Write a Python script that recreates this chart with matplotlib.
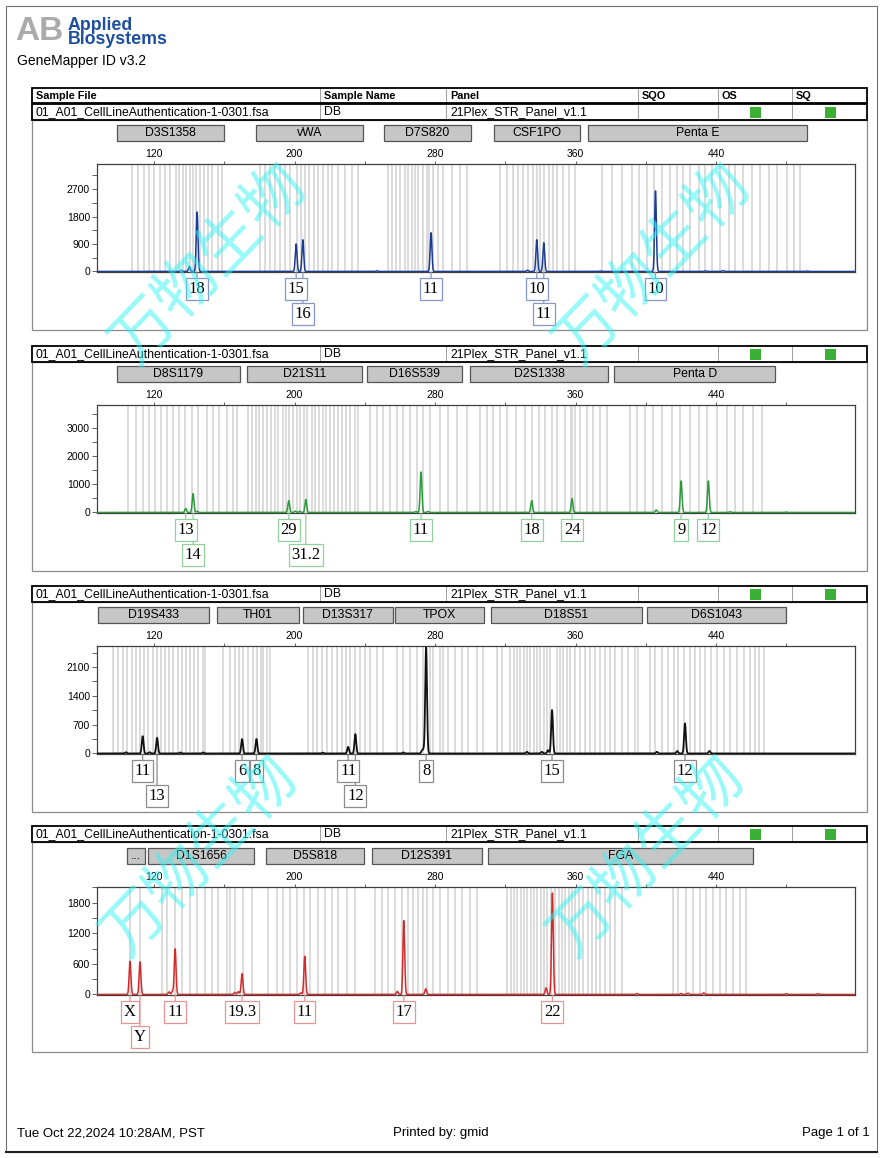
import numpy as np
import matplotlib
matplotlib.use("Agg")
import matplotlib.pyplot as plt
from matplotlib.patches import Rectangle
from matplotlib.transforms import blended_transform_factory

W, H = 882, 1158
SANS = "Liberation Sans"
SERIF = "Liberation Serif"

# ---------------- data ----------------
sample_file = "01_A01_CellLineAuthentication-1-0301.fsa"
sample_name = "DB"
panel_name = "21Plex_STR_Panel_v1.1"
header_cols = ["Sample File", "Sample Name", "Panel", "SQO", "OS", "SQ"]

x_major = [120, 200, 280, 360, 440]
x_minor = [160, 240, 320, 400, 480]

# panel 1 - blue dye
p1_markers = ["D3S1358", "vWA", "D7S820", "CSF1PO", "Penta E"]
p1_marker_start = [98.9, 178.1, 251.0, 313.6, 367.1]
p1_marker_end = [159.9, 239.0, 300.5, 362.6, 491.8]
p1_peak_bp = [144.5, 200.9, 204.7, 277.7, 337.9, 341.9, 405.5]
p1_peak_height = [1950, 900, 1040, 1270, 1040, 940, 2640]
p1_allele = ["18", "15", "16", "11", "10", "11", "10"]
p1_row = [1, 1, 2, 1, 1, 2, 1]
p1_small_bp = [135.5, 140.1, 247.0, 332.6, 373.9, 434.0, 444.0, 492.0]
p1_small_height = [30, 160, 20, 40, 15, 20, 25, 15]
p1_yticks = [0, 900, 1800, 2700]
p1_yminor = [450, 1350, 2250, 3150]
p1_ymax = 3541
p1_bins = [107.3, 110.7, 114.5, 117.2, 120.0, 123.2, 126.1, 129.3, 132.3, 134.4,
           136.3, 138.4, 140.5, 142.2, 143.9, 146.2, 148.7, 150.6, 153.2, 156.2, 158.5,
           180.4, 183.2, 186.0, 188.9, 191.7, 194.6, 197.4, 201.2, 203.5, 206.0,
           208.4, 211.1, 213.2, 216.0, 218.9, 221.2, 225.0, 228.7, 232.5, 236.3,
           253.4, 255.3, 257.8, 260.0, 262.9, 264.8, 266.7, 268.6, 270.5, 273.4,
           275.3, 276.8, 279.0, 281.9, 284.7, 289.5, 294.2, 298.0,
           317.0, 320.9, 324.3, 327.0, 330.0, 332.8, 335.7, 338.3, 339.8, 342.3,
           344.7, 347.4, 349.7, 353.1, 356.5, 359.7,
           375.3, 381.0, 386.7, 392.0, 396.3, 400.5, 404.7, 409.0, 413.8, 417.6,
           421.4, 425.2, 430.0, 433.8, 437.6, 442.3, 447.1, 450.9, 455.6, 460.4,
           465.1, 469.9, 474.6, 480.3, 484.1, 487.5]

# panel 2 - green dye
p2_markers = ["D8S1179", "D21S11", "D16S539", "D2S1338", "Penta D"]
p2_marker_start = [98.8, 172.8, 241.1, 299.9, 382.1]
p2_marker_end = [169.0, 238.6, 295.1, 378.6, 473.5]
p2_peak_bp = [138.0, 142.2, 196.7, 206.4, 272.0, 335.0, 358.0, 420.1, 435.6]
p2_peak_height = [140, 670, 420, 460, 1440, 420, 490, 1120, 1120]
p2_allele = ["13", "14", "29", "31.2", "11", "18", "24", "9", "12"]
p2_row = [1, 2, 1, 2, 1, 1, 1, 1, 1]
p2_small_bp = [144.5, 200.5, 203.0, 269.0, 276.0, 405.9, 448.0, 480.0]
p2_small_height = [40, 45, 40, 30, 40, 90, 25, 15]
p2_yticks = [0, 1000, 2000, 3000]
p2_yminor = [500, 1500, 2500, 3500]
p2_ymax = 3841
p2_bins = [105.4, 109.8, 113.9, 117.3, 120.8, 124.2, 127.6, 131.0, 134.4, 137.8,
           141.6, 145.2, 150.0, 153.8, 156.8, 161.4, 165.2, 167.4,
           173.7, 175.6, 178.1, 180.0, 182.3, 184.5, 186.4, 188.9, 190.8, 193.2,
           195.1, 197.0, 199.3, 201.2, 203.1, 205.4, 207.3, 209.8, 211.7, 213.8,
           216.0, 217.9, 220.2, 222.5, 225.0, 226.9, 229.3, 231.6, 234.4, 236.3,
           243.0, 246.8, 250.6, 254.4, 258.2, 262.0, 265.8, 269.6, 273.4, 277.2,
           282.8, 287.5, 292.3, 298.0,
           305.6, 309.4, 313.2, 317.0, 320.9, 326.2, 331.2, 335.0, 339.4, 342.6,
           346.4, 349.7, 354.0, 357.3, 358.2, 359.7, 362.6, 366.4, 370.1, 373.9, 377.7,
           391.0, 394.8, 399.5, 404.3, 409.0, 414.7, 419.5, 425.2, 430.0, 434.7,
           440.4, 446.1, 450.9, 455.6, 461.3, 466.1]

# panel 3 - black dye
p3_markers = ["D19S433", "TH01", "D13S317", "TPOX", "D18S51", "D6S1043"]
p3_marker_start = [88.3, 155.7, 204.7, 257.2, 311.7, 400.5]
p3_marker_end = [151.3, 202.7, 255.9, 308.1, 398.0, 479.7]
p3_peak_bp = [113.5, 121.7, 170.1, 178.3, 230.5, 234.6, 274.9, 346.6, 422.3]
p3_peak_height = [420, 380, 350, 350, 160, 470, 2575, 1056, 730]
p3_allele = ["11", "13", "6", "8", "11", "12", "8", "15", "12"]
p3_row = [1, 2, 1, 1, 1, 2, 1, 1, 1]
p3_small_bp = [104.0, 117.5, 135.0, 148.0, 216.0, 262.0, 272.6, 273.6, 332.3,
               340.8, 344.3, 406.3, 417.9, 436.2]
p3_small_height = [30, 30, 25, 25, 20, 25, 70, 90, 40, 40, 80, 40, 60, 60]
p3_yticks = [0, 700, 1400, 2100]
p3_yminor = [350, 1050, 1750, 2450]
p3_ymax = 2624
p3_bins = [96.8, 99.7, 102.5, 104.8, 107.3, 109.8, 112.0, 114.5, 116.8, 119.2,
           121.5, 124.0, 126.3, 128.7, 131.0, 133.5, 135.8, 138.2, 140.5, 142.8,
           145.2, 147.7, 149.0,
           159.5, 163.3, 166.1, 168.6, 170.9, 173.7, 176.2, 178.5, 180.7, 182.3,
           184.5, 186.0,
           207.9, 210.3, 212.6, 215.5, 218.3, 221.2, 224.0, 226.9, 229.3, 231.6,
           234.4, 237.3, 240.1, 243.0, 246.8, 250.6,
           258.2, 262.0, 265.8, 269.6, 273.4, 277.2, 279.0, 282.8, 284.7, 287.6,
           291.4, 295.1, 298.9, 303.6, 307.4,
           315.0, 318.0, 322.8, 324.7, 326.6, 328.5, 330.4, 332.3, 334.2, 336.1,
           338.0, 339.9, 341.8, 343.6, 345.5, 349.3, 351.2, 353.1, 355.0, 356.9,
           359.8, 362.6, 365.5, 368.3, 371.2, 374.0, 376.9, 379.7, 382.5, 386.3,
           390.1, 393.9, 395.8,
           402.5, 405.3, 409.1, 412.9, 415.8, 418.6, 421.5, 425.2, 428.1, 431.0,
           433.8, 437.2, 440.5, 444.3, 448.1, 451.9, 455.7, 459.5, 462.3, 464.2, 467.1]

# panel 4 - red dye
p4_markers = ["...", "D1S1656", "D5S818", "D12S391", "FGA"]
p4_marker_start = [104.8, 116.8, 183.6, 244.1, 310.0]
p4_marker_end = [114.7, 176.9, 239.8, 306.6, 461.2]
p4_peak_bp = [106.3, 112.0, 132.0, 170.1, 205.8, 262.2, 346.8]
p4_peak_height = [650, 640, 895, 410, 750, 1448, 1990]
p4_allele = ["X", "Y", "11", "19.3", "11", "17", "22"]
p4_row = [1, 2, 1, 1, 1, 1, 1]
p4_small_bp = [128.5, 130.5, 166.0, 168.0, 203.5, 258.5, 274.7, 343.2, 395.0,
               420.0, 424.0, 433.0, 480.0, 498.0]
p4_small_height = [50, 60, 40, 55, 30, 60, 110, 130, 20, 20, 25, 30, 15, 15]
p4_yticks = [0, 600, 1200, 1800]
p4_yminor = [300, 900, 1500, 2100]
p4_ymax = 2119
p4_bins = [106.3, 112.0,
           124.4, 127.2, 132.0, 135.8, 140.5, 144.3, 149.0, 152.8, 156.6, 161.4,
           163.3, 166.1, 170.9, 175.6,
           185.1, 189.8, 193.6, 197.4, 201.2, 205.4, 208.8, 213.6, 217.4, 221.2,
           225.0, 229.7, 234.4,
           245.8, 249.6, 253.4, 257.2, 261.0, 264.8, 267.7, 270.5, 273.4, 275.3,
           279.0, 282.8, 287.6, 291.4, 295.2, 299.9, 303.7,
           320.9, 323.1, 325.0, 326.9, 328.8, 330.7, 332.6, 334.5, 336.4, 338.3,
           340.2, 342.1, 344.0, 345.9, 348.4, 350.3, 352.2, 354.1, 356.0, 357.8,
           359.7, 362.2, 364.5, 366.8, 369.2, 371.7, 374.0, 376.9, 379.7, 382.6, 386.3,
           415.5, 418.4, 423.1, 426.9, 430.7, 434.5, 438.5, 442.1, 445.9, 449.7,
           453.5, 457.3]

watermark_text = "万物生物"

# ---------------- layout (pixels) ----------------
panels = [
    dict(markers=p1_markers, mstart=p1_marker_start, mend=p1_marker_end,
         bp=p1_peak_bp, height=p1_peak_height, allele=p1_allele, row=p1_row,
         sbp=p1_small_bp, sheight=p1_small_height, yticks=p1_yticks,
         yminor=p1_yminor, ymax=p1_ymax, bins=p1_bins,
         color="#1c3c94", box="#8796c8", lw=1.1,
         row_top=104, body_bottom=330, plot_top=163.5),
    dict(markers=p2_markers, mstart=p2_marker_start, mend=p2_marker_end,
         bp=p2_peak_bp, height=p2_peak_height, allele=p2_allele, row=p2_row,
         sbp=p2_small_bp, sheight=p2_small_height, yticks=p2_yticks,
         yminor=p2_yminor, ymax=p2_ymax, bins=p2_bins,
         color="#2b9a3a", box="#92d09e", lw=1.1,
         row_top=346, body_bottom=571, plot_top=404.5),
    dict(markers=p3_markers, mstart=p3_marker_start, mend=p3_marker_end,
         bp=p3_peak_bp, height=p3_peak_height, allele=p3_allele, row=p3_row,
         sbp=p3_small_bp, sheight=p3_small_height, yticks=p3_yticks,
         yminor=p3_yminor, ymax=p3_ymax, bins=p3_bins,
         color="#111111", box="#8c8c8c", lw=1.3,
         row_top=586, body_bottom=812, plot_top=645.5),
    dict(markers=p4_markers, mstart=p4_marker_start, mend=p4_marker_end,
         bp=p4_peak_bp, height=p4_peak_height, allele=p4_allele, row=p4_row,
         sbp=p4_small_bp, sheight=p4_small_height, yticks=p4_yticks,
         yminor=p4_yminor, ymax=p4_ymax, bins=p4_bins,
         color="#d42a2a", box="#e89494", lw=1.1,
         row_top=826, body_bottom=1052, plot_top=886.5),
]

TABLE_L, TABLE_R = 32, 866.5
COL_X = [32, 320, 446, 638, 718, 792]
PLOT_L, PLOT_W, PLOT_H = 97, 758, 108.5
XLIM = (87.5, 519.1)

fig = plt.figure(figsize=(W / 100, H / 100), dpi=100)
fig.patch.set_facecolor("white")

page = fig.add_axes([0, 0, 1, 1])
page.set_xlim(0, W)
page.set_ylim(H, 0)
page.axis("off")

# page frame
page.add_patch(Rectangle((6, 6), 871, 1146, fill=False, ec="#707070", lw=0.8))
page.plot([6, 877], [1152, 1152], color="#202020", lw=1.5)

# logo + program name
page.text(15, 32, "AB", fontsize=24, fontweight="bold", color="#ababab",
          va="center", ha="left", family=SANS)
page.text(68, 25, "Applied", fontsize=12.8, fontweight="bold", color="#1d4f9e",
          va="center", ha="left", family=SANS)
page.text(68, 40, "Biosystems", fontsize=12.8, fontweight="bold", color="#1d4f9e",
          va="center", ha="left", family=SANS)
page.text(17, 61, "GeneMapper ID v3.2", fontsize=10, va="center", ha="left", family=SANS)

# footer
page.text(17, 1133, "Tue Oct 22,2024 10:28AM, PST", fontsize=9.5, va="center", ha="left", family=SANS)
page.text(441, 1133, "Printed by: gmid", fontsize=9.5, va="center", ha="center", family=SANS)
page.text(870, 1133, "Page 1 of 1", fontsize=9.5, va="center", ha="right", family=SANS)


def table_row(top, bottom, texts, bold=False, squares=False):
    page.add_patch(Rectangle((TABLE_L, top), TABLE_R - TABLE_L, bottom - top,
                             fill=False, ec="black", lw=1.3, zorder=3))
    for cx in COL_X[1:]:
        page.plot([cx, cx], [top, bottom], color="#a0a0a0", lw=0.7, zorder=2)
    for cx, t in zip(COL_X, texts):
        page.text(cx + 4, (top + bottom) / 2 + 0.5, t, fontsize=7.8 if bold else 8.8,
                  fontweight="bold" if bold else "normal", va="center", ha="left",
                  family=SANS)
    if squares:
        for sx in [750, 824.5]:
            page.add_patch(Rectangle((sx, top + 3), 11, 10.5, fc="#3cb034", ec="none"))


xg = np.linspace(XLIM[0], XLIM[1], 6000)
sigma = 0.5

for i, p in enumerate(panels):
    top = p["row_top"]
    if i == 0:
        table_row(88, 102.5, header_cols, bold=True)
    table_row(top, top + 15.5, [sample_file, sample_name, panel_name, "", "", ""], squares=True)
    page.add_patch(Rectangle((TABLE_L, top + 15.5), TABLE_R - TABLE_L,
                             p["body_bottom"] - top - 15.5, fill=False, ec="#8c8c8c", lw=0.9))

    ax = fig.add_axes([PLOT_L / W, 1 - (p["plot_top"] + PLOT_H) / H, PLOT_W / W, PLOT_H / H])
    ax.set_facecolor("white")
    ax.set_xlim(*XLIM)
    ax.set_ylim(-0.005 * p["ymax"], p["ymax"])

    # allele bins
    for b in p["bins"]:
        ax.axvline(b, color="#d2d2d2", lw=1.1, zorder=1)

    # trace built from the peak list
    pos = np.array(p["bp"] + p["sbp"])
    hts = np.array(p["height"] + p["sheight"], dtype=float)
    trace = (hts[:, None] * np.exp(-0.5 * ((xg[None, :] - pos[:, None]) / sigma) ** 2)).sum(axis=0)
    ax.plot(xg, trace, color=p["color"], lw=p["lw"], zorder=3)

    # axes styling
    for s in ax.spines.values():
        s.set_color("#404040")
        s.set_linewidth(0.9)
    ax.xaxis.tick_top()
    ax.set_xticks(x_major)
    ax.set_xticks(x_minor, minor=True)
    ax.set_xticklabels([str(v) for v in x_major])
    ax.tick_params(axis="x", which="both", direction="out", length=2.5, width=0.7,
                   color="#606060", labelsize=7.5, pad=0.5)
    ax.set_yticks(p["yticks"])
    ax.set_yticks(p["yminor"], minor=True)
    ax.tick_params(axis="y", which="both", direction="out", length=3.5, width=0.7,
                   color="#606060", labelsize=7.5, pad=1.5)
    for lab in ax.get_xticklabels() + ax.get_yticklabels():
        lab.set_family(SANS)

    # marker (locus) bars
    trans = blended_transform_factory(ax.transData, ax.transAxes)
    y0 = 1 + 23 / PLOT_H
    hh = 15.5 / PLOT_H
    for name, a, b in zip(p["markers"], p["mstart"], p["mend"]):
        ax.add_patch(Rectangle((a, y0), b - a, hh, transform=trans, clip_on=False,
                               fc="#c6c6c6", ec="#555555", lw=0.9))
        ax.text((a + b) / 2, y0 + hh / 2, name, transform=trans, ha="center",
                va="center", fontsize=8.8, family=SANS, clip_on=False)

    # allele call boxes (second row first so first-row boxes sit on top)
    order = sorted(range(len(p["bp"])), key=lambda k: -p["row"][k])
    for k in order:
        off = -17 if p["row"][k] == 1 else -42
        ax.annotate(p["allele"][k], xy=(p["bp"][k], 0),
                    xycoords=("data", "axes fraction"),
                    xytext=(0, off), textcoords="offset pixels",
                    ha="center", va="center", fontsize=12, family=SERIF,
                    annotation_clip=False,
                    bbox=dict(boxstyle="square,pad=0.16", fc="white", ec=p["box"], lw=0.9),
                    arrowprops=dict(arrowstyle="-", color=p["box"], lw=0.9,
                                    shrinkA=0, shrinkB=0))

# watermark on top of everything
for cx, cy in [(210, 264), (654, 264), (201, 856), (648, 856)]:
    fig.text(cx / W, 1 - cy / H, watermark_text, rotation=46, rotation_mode="anchor",
             ha="center", va="center", fontsize=45, fontweight="light",
             color="#33f2f2", alpha=0.5,
             family=["Noto Sans CJK SC", "DejaVu Sans"], zorder=50)

fig.savefig("out.png", dpi=100, facecolor="white")
